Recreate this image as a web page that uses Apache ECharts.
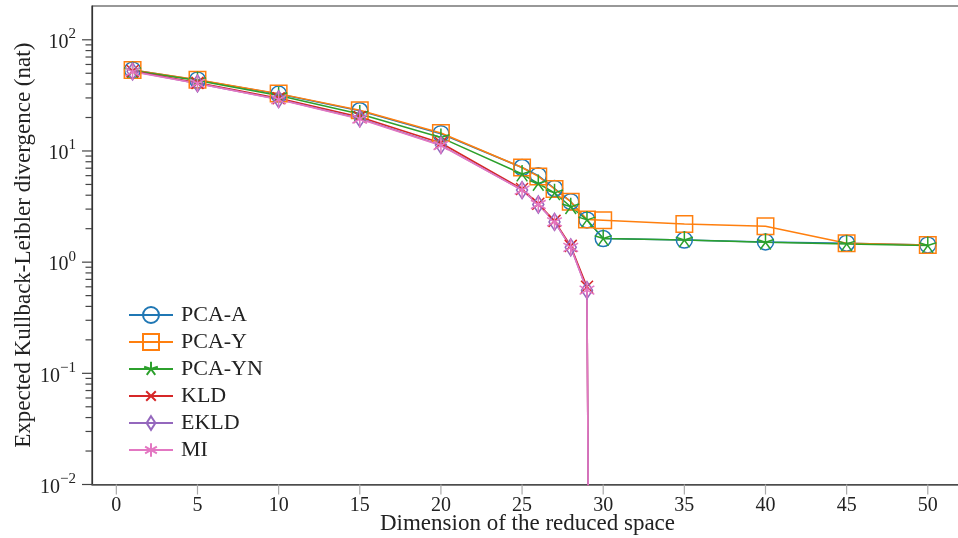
<!DOCTYPE html>
<html>
<head>
<meta charset="utf-8">
<script src="https://cdn.jsdelivr.net/npm/echarts@6/dist/echarts.min.js"></script>
<style>
  html, body { margin: 0; padding: 0; background: #fff; }
  #chart { width: 958px; height: 538px; }
</style>
</head>
<body>
<div id="chart"></div>
<script>
// Reduced-space dimensions for the PCA variants and for the information-based methods
const dimsPca = [1, 5, 10, 15, 20, 25, 26, 27, 28, 29, 30, 35, 40, 45, 50];
const dimsInfo = [1, 5, 10, 15, 20, 25, 26, 27, 28, 29, 30];

// Expected KL divergence (nat)
const pcaA  = [53.5, 43.5, 32.5, 23.0, 14.3, 7.1, 6.0, 4.6, 3.5, 2.4, 1.63, 1.58, 1.52, 1.48, 1.43];
const pcaY  = [53.5, 43.8, 32.8, 23.2, 14.5, 7.1, 5.9, 4.55, 3.5, 2.42, 2.38, 2.2, 2.1, 1.48, 1.43];
const pcaYN = [53.0, 43.0, 31.5, 21.5, 13.2, 6.2, 5.1, 4.2, 3.15, 2.4, 1.63, 1.58, 1.51, 1.46, 1.41];
const kld   = [52.5, 41.0, 29.8, 20.2, 11.8, 4.55, 3.35, 2.35, 1.4, 0.6, 1e-25];
const ekld  = [52.0, 40.5, 29.2, 19.6, 11.3, 4.45, 3.3, 2.3, 1.36, 0.56, 1e-25];
const mi    = [51.5, 40.5, 29.0, 19.4, 11.2, 4.45, 3.3, 2.3, 1.36, 0.56, 1e-25];

const seriesNames = ['PCA-A', 'PCA-Y', 'PCA-YN', 'KLD', 'EKLD', 'MI'];

// Axis ticks
const xTicks = [0, 5, 10, 15, 20, 25, 30, 35, 40, 45, 50];
const yMajorTicks = [0.01, 0.1, 1, 10, 100];
const yMinorTicks = [];
for (let e = -2; e <= 2; e++) {
  for (let m = 2; m <= 9; m++) {
    const v = m * Math.pow(10, e);
    if (v < 200) yMinorTicks.push(v);
  }
}

const X_MIN = -1.5, X_MAX = 52.17;
const Y_MIN = 0.01, Y_MAX = Math.pow(10, 2.304);
const FONT = '"Liberation Serif", "DejaVu Serif", serif';
const TEXT = '#222';

// Marker shapes (centred, 1 unit = 1 px at symbolSize 20)
const BOX = 'M-10,-10M10,10';
const SYM_STAR = 'path://' + BOX + 'M0,0L0,-9M0,0L8.56,-2.78M0,0L5.29,7.28M0,0L-5.29,7.28M0,0L-8.56,-2.78';
const SYM_X = 'path://' + BOX + 'M-6,-6L6,6M-6,6L6,-6';
const SYM_DIAMOND = 'path://' + BOX + 'M0,-8.5L5.5,0L0,8.5L-5.5,0Z';
const SYM_AST = 'path://' + BOX + 'M0,-8.5L0,8.5M-7.36,-4.25L7.36,4.25M-7.36,4.25L7.36,-4.25';

function pairs(xs, ys) { return xs.map((x, i) => [x, ys[i]]); }

function lineSeries(name, xs, ys, color, symbol, size) {
  return {
    name: name,
    type: 'line',
    data: pairs(xs, ys),
    symbol: symbol,
    symbolSize: size,
    symbolKeepAspect: true,
    showAllSymbol: true,
    lineStyle: { color: color, width: 1.5 },
    itemStyle: { color: 'none', borderColor: color, borderWidth: 1.5 },
    emphasis: { disabled: true },
    animation: false
  };
}

// Tick marks drawn outside the plotting frame, placed through the axis scales
function tickSeries(values, axis, len) {
  return {
    type: 'custom',
    coordinateSystem: 'cartesian2d',
    clip: false,
    silent: true,
    animation: false,
    data: values.map(v => axis === 'y' ? [X_MIN, v] : [v, Y_MIN]),
    renderItem: function (params, api) {
      const p = api.coord([api.value(0), api.value(1)]);
      const shape = axis === 'y'
        ? { x1: p[0] - len, y1: p[1], x2: p[0], y2: p[1] }
        : { x1: p[0], y1: p[1], x2: p[0], y2: p[1] + len };
      return {
        type: 'line',
        shape: shape,
        style: { stroke: axis === 'y' ? '#444' : '#aaa', lineWidth: 1.2 }
      };
    }
  };
}

const chart = echarts.init(document.getElementById('chart'), null, { renderer: 'canvas' });

chart.setOption({
  backgroundColor: '#fff',
  animation: false,
  grid: {
    left: 92, top: 6, right: -5, bottom: 53.5,
    show: true, borderColor: '#333', borderWidth: 1.2,
    containLabel: false,
    outerBoundsMode: 'none'
  },
  legend: {
    data: seriesNames,
    orient: 'vertical',
    left: 128, top: 304,
    padding: 0,
    itemWidth: 44, itemHeight: 20, itemGap: 5,
    textStyle: { fontFamily: FONT, fontSize: 22, color: TEXT, padding: [0, 0, 0, 3] },
    selectedMode: false
  },
  xAxis: {
    type: 'value',
    min: X_MIN, max: X_MAX,
    name: 'Dimension of the reduced space',
    nameLocation: 'middle',
    nameGap: 28,
    nameMoveOverlap: false,
    nameTextStyle: { fontFamily: FONT, fontSize: 23, color: TEXT },
    axisLine: { show: true, onZero: false, lineStyle: { color: '#555', width: 1.5 } },
    axisTick: { show: false },
    splitLine: { show: false },
    axisLabel: {
      customValues: xTicks,
      margin: 11,
      fontFamily: FONT, fontSize: 20, color: TEXT
    }
  },
  yAxis: {
    type: 'log',
    logBase: 10,
    min: Y_MIN, max: Y_MAX,
    name: 'Expected Kullback-Leibler divergence (nat)',
    nameLocation: 'middle',
    nameGap: 57,
    nameMoveOverlap: false,
    nameTextStyle: { fontFamily: FONT, fontSize: 23, color: TEXT },
    axisLine: { show: true, onZero: false, lineStyle: { color: '#333', width: 1.2 } },
    axisTick: { show: false },
    splitLine: { show: false },
    axisLabel: {
      margin: 16,
      showMaxLabel: false,
      formatter: function (v) {
        const e = Math.log10(v);
        const r = Math.round(e);
        if (Math.abs(e - r) > 1e-6) return '';
        return '{b|10}{s|' + (r < 0 ? '\u2212' + (-r) : r) + '}';
      },
      rich: {
        b: { fontFamily: FONT, fontSize: 20, color: TEXT, lineHeight: 26, verticalAlign: 'bottom' },
        s: { fontFamily: FONT, fontSize: 15, color: TEXT, lineHeight: 16, verticalAlign: 'top' }
      }
    }
  },
  series: [
    lineSeries('PCA-A', dimsPca, pcaA, '#1f77b4', 'circle', 16),
    lineSeries('PCA-Y', dimsPca, pcaY, '#ff7f0e', 'rect', 16.5),
    lineSeries('PCA-YN', dimsPca, pcaYN, '#2ca02c', SYM_STAR, 20),
    lineSeries('KLD', dimsInfo, kld, '#d62728', SYM_X, 20),
    lineSeries('EKLD', dimsInfo, ekld, '#9467bd', SYM_DIAMOND, 20),
    lineSeries('MI', dimsInfo, mi, '#e377c2', SYM_AST, 20),
    tickSeries(yMajorTicks, 'y', 10),
    tickSeries(yMinorTicks, 'y', 6.5),
    tickSeries(xTicks, 'x', 10)
  ]
});
</script>
</body>
</html>
